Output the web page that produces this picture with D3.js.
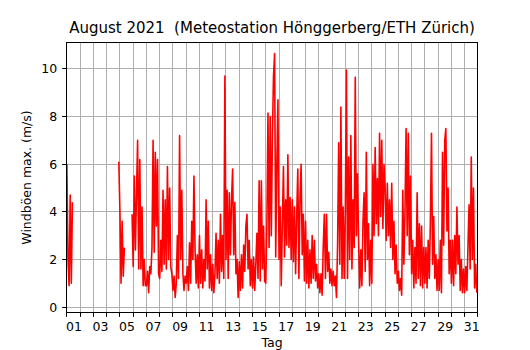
<!DOCTYPE html>
<html>
<head>
<meta charset="utf-8">
<script src="https://cdn.jsdelivr.net/npm/d3@7"></script>
<style>
body { margin: 0; background: #fff; }
svg { display: block; font-family: "DejaVu Sans", sans-serif; }
</style>
</head>
<body>
<div id="chart"></div>
<script>
var title = "August 2021  (Meteostation Hönggerberg/ETH Zürich)";
var yTitle = "Windböen max. (m/s)";
var xTitle = "Tag";
var yTicks = [0, 2, 4, 6, 8, 10];
var dayLabels = ["01", "03", "05", "07", "09", "11", "13", "15", "17", "19", "21",
  "23", "25", "27", "29", "31"];

// max. gust per 2 hours (00h, 02h ... 22h), one row per day of August, null = no data
var gusts = [
  [6.0, 2.0, 0.9, 4.7, 1.0, 4.4, null, null, null, null, null, null],
  [null, null, null, null, null, null, null, null, null, null, null, null],
  [null, null, null, null, null, null, null, null, null, null, null, null],
  [null, null, null, null, null, null, null, null, null, null, null, 6.1],
  [4.0, 1.0, 3.6, 1.3, 2.5, null, null, null, null, null, null, 3.9],
  [1.7, 5.5, 2.4, 4.8, 7.0, 1.6, 6.2, 1.6, 4.2, 0.9, 2.0, 0.9],
  [0.9, 1.5, 0.6, 1.7, 1.4, 2.5, 7.0, 2.3, 6.5, 3.4, 6.2, 1.4],
  [1.2, 2.8, 1.5, 4.9, 1.8, 4.5, 1.6, 5.9, 2.0, 5.0, 1.7, 1.4],
  [0.7, 1.3, 0.4, 1.0, 3.0, 1.2, 7.2, 2.0, 4.9, 1.4, 0.7, 1.3],
  [1.0, 1.7, 0.7, 2.7, 1.0, 3.6, 2.0, 5.5, 2.4, 1.0, 2.2, 0.8],
  [3.0, 1.0, 2.4, 0.8, 2.0, 1.1, 4.5, 1.6, 3.6, 0.8, 2.2, 0.7],
  [1.8, 0.6, 1.4, 3.1, 1.2, 2.8, 1.0, 3.9, 1.5, 3.0, 1.2, 9.7],
  [2.0, 4.9, 1.2, 4.8, 2.2, 4.5, 5.8, 2.2, 4.4, 1.4, 2.0, 0.4],
  [1.9, 0.7, 2.2, 0.8, 2.6, 1.5, 3.4, 3.9, 1.6, 2.8, 0.9, 2.0],
  [0.8, 2.1, 0.7, 1.8, 3.1, 1.2, 5.3, 1.1, 5.3, 1.6, 3.4, 1.1],
  [1.0, 3.5, 8.15, 2.5, 8.0, 3.0, 7.2, 9.7, 10.65, 2.1, 6.0, 8.7],
  [2.0, 4.2, 0.9, 3.5, 5.9, 2.1, 4.5, 2.6, 6.4, 2.5, 4.6, 2.0],
  [4.5, 1.9, 4.2, 1.4, 3.8, 5.8, 1.2, 4.6, 6.0, 2.2, 3.9, 1.1],
  [3.6, 1.0, 2.8, 0.8, 2.4, 1.0, 3.0, 1.2, 2.8, 1.1, 1.8, 0.8],
  [1.4, 0.6, 1.4, 0.5, 2.5, 3.9, 1.2, 3.9, 1.5, 2.3, 1.0, 1.6],
  [0.9, 1.5, 0.9, 1.3, 0.4, 2.6, 6.9, 1.8, 8.4, 1.2, 4.2, 1.2],
  [4.0, 9.95, 1.2, 6.3, 2.0, 7.2, 1.6, 4.5, 2.5, 9.65, 3.0, 5.6],
  [2.8, 0.8, 2.4, 0.9, 3.6, 4.8, 1.5, 6.5, 2.0, 3.5, 0.9, 2.8],
  [1.0, 6.0, 3.0, 6.7, 3.5, 5.4, 3.0, 7.3, 3.8, 7.0, 3.3, 6.0],
  [5.0, 2.8, 5.2, 3.0, 4.5, 2.5, 5.2, 2.0, 3.6, 1.4, 2.6, 1.0],
  [1.5, 0.7, 1.2, 0.5, 4.9, 1.8, 4.0, 7.5, 3.0, 7.3, 2.2, 5.5],
  [1.4, 2.8, 0.8, 2.5, 1.0, 4.8, 1.2, 3.5, 0.9, 3.4, 0.8, 2.5],
  [1.0, 2.5, 0.8, 2.8, 1.2, 3.6, 7.3, 1.8, 3.8, 1.2, 2.2, 0.7],
  [2.0, 0.7, 2.8, 0.6, 6.5, 2.6, 7.0, 7.5, 3.2, 5.0, 1.4, 2.8],
  [1.0, 2.8, 0.9, 3.0, 1.4, 4.2, 1.8, 3.0, 0.7, 2.0, 0.6, 1.6],
  [0.6, 1.7, 0.7, 2.5, 4.3, 1.6, 6.3, 2.0, 5.0, 0.8, 1.8, 0.6]
];

var width = 530, height = 350;
var plotLeft = 66.5, plotRight = 477.5, plotTop = 42.5, plotBottom = 312.5;

var start = new Date(Date.UTC(2021, 7, 1)),
  end = new Date(Date.UTC(2021, 8, 1));

var x = d3.scaleUtc().domain([start, end]).range([66.9, 477.9]);
var y = d3.scaleLinear().domain([-0.22, 11.12]).range([312.3, 42.3]);

// keep 1px lines sharp
function snap(v) { return Math.round(v - 0.5) + 0.5; }

var points = [];
gusts.forEach(function(row, i) {
  row.forEach(function(v, j) {
    points.push({ t: new Date(Date.UTC(2021, 7, 1 + i, j * 2)), v: v });
  });
});

var svg = d3.select("#chart")
  .append("svg")
  .attr("width", width)
  .attr("height", height);

svg.append("rect")
  .attr("width", width)
  .attr("height", height)
  .attr("fill", "#fff");

svg.append("clipPath")
  .attr("id", "plot")
  .append("rect")
  .attr("x", plotLeft)
  .attr("y", plotTop)
  .attr("width", plotRight - plotLeft)
  .attr("height", plotBottom - plotTop);

var days = d3.utcDay.range(start, d3.utcDay.offset(end, 1));

// grid
var grid = svg.append("g").attr("stroke", "#b0b0b0").attr("stroke-width", 1);
grid.selectAll("line.v")
  .data(days.slice(1, -1))
  .enter()
  .append("line")
  .attr("class", "v")
  .attr("x1", function(d) { return snap(x(d)); })
  .attr("x2", function(d) { return snap(x(d)); })
  .attr("y1", plotTop)
  .attr("y2", plotBottom);
grid.selectAll("line.h")
  .data(yTicks)
  .enter()
  .append("line")
  .attr("class", "h")
  .attr("x1", plotLeft)
  .attr("x2", plotRight)
  .attr("y1", function(d) { return snap(y(d)); })
  .attr("y2", function(d) { return snap(y(d)); });

// data
var line = d3.line()
  .defined(function(d) { return d.v != null; })
  .x(function(d) { return x(d.t); })
  .y(function(d) { return y(d.v); });

svg.append("path")
  .datum(points)
  .attr("clip-path", "url(#plot)")
  .attr("fill", "none")
  .attr("stroke", "#ff0000")
  .attr("stroke-width", 1.6)
  .attr("stroke-linejoin", "round")
  .attr("d", line);

// frame
svg.append("rect")
  .attr("x", plotLeft)
  .attr("y", plotTop)
  .attr("width", plotRight - plotLeft)
  .attr("height", plotBottom - plotTop)
  .attr("fill", "none")
  .attr("stroke", "#000")
  .attr("stroke-width", 1);

// x axis: a tick every day, labels at noon of odd days
var xTickAxis = svg.append("g")
  .attr("transform", "translate(0," + plotBottom + ")")
  .call(d3.axisBottom(x).tickValues(days).tickSize(4.4).tickFormat(""));
xTickAxis.select(".domain").remove();
xTickAxis.selectAll(".tick")
  .attr("transform", function(d) { return "translate(" + snap(x(d)) + ",0)"; });

var labelDates = dayLabels.map(function(s) {
  return new Date(Date.UTC(2021, 7, +s, 12));
});
var xLabelAxis = svg.append("g")
  .attr("transform", "translate(0," + plotBottom + ")")
  .call(d3.axisBottom(x).tickValues(labelDates).tickSize(0).tickPadding(9.6)
    .tickFormat(function(d, i) { return dayLabels[i]; }));
xLabelAxis.select(".domain").remove();
xLabelAxis.selectAll("line").remove();

// y axis
var yAxis = svg.append("g")
  .attr("transform", "translate(" + plotLeft + ",0)")
  .call(d3.axisLeft(y).tickValues(yTicks).tickSize(4.4).tickPadding(5)
    .tickFormat(d3.format("d")));
yAxis.select(".domain").remove();
yAxis.selectAll(".tick")
  .attr("transform", function(d) { return "translate(0," + snap(y(d)) + ")"; });

svg.selectAll(".tick text")
  .attr("fill", "#000")
  .style("font-family", "'DejaVu Sans', sans-serif")
  .style("font-size", "12.5px");

// titles
svg.append("text")
  .attr("x", (plotLeft + plotRight) / 2)
  .attr("y", 33)
  .attr("text-anchor", "middle")
  .style("font-size", "15px")
  .style("white-space", "pre")
  .text(title);

svg.append("text")
  .attr("x", (plotLeft + plotRight) / 2)
  .attr("y", 347)
  .attr("text-anchor", "middle")
  .style("font-size", "12.5px")
  .text(xTitle);

svg.append("text")
  .attr("transform", "translate(31," + (plotTop + plotBottom) / 2 + ") rotate(-90)")
  .attr("text-anchor", "middle")
  .style("font-size", "12.5px")
  .text(yTitle);
</script>
</body>
</html>
